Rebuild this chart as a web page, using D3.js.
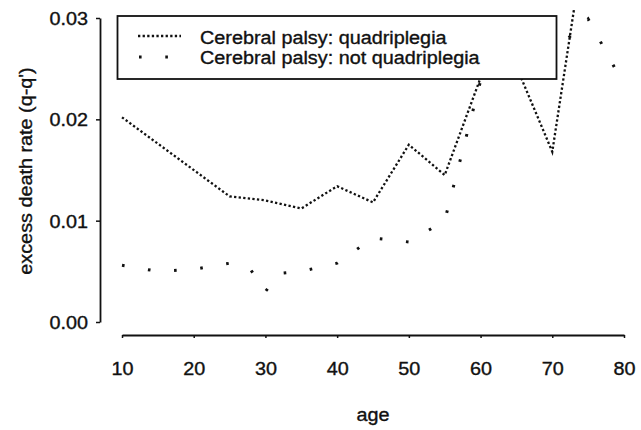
<!DOCTYPE html>
<html lang="en">
<head>
  <meta charset="UTF-8">
  <title>excess death rate</title>
  <script src="https://cdn.jsdelivr.net/npm/d3@7"></script>
  <style>
    body { margin: 0; background: #fff; }
    text { font-family: "Liberation Sans", Arial, sans-serif; fill: #111; stroke: #111; stroke-width: 0.35px; }
  </style>
</head>
<body>
<div id="grafica"></div>
<script>
// datos
var quadAge  = [10, 25, 30, 35, 40, 45, 50, 55, 60, 65, 70, 75]
var quadRate = [0.0202, 0.0124, 0.0120, 0.0112, 0.0134, 0.0118, 0.0175, 0.0145, 0.0241, 0.0252, 0.0168, 0.0400]

var notAge  = [10, 15, 20, 25, 28, 30, 32, 35, 40, 45, 50, 55, 60, 65, 70, 75, 80]
var notRate = [0.0056, 0.0050, 0.0052, 0.0058, 0.0051, 0.0030, 0.0048, 0.0050, 0.0058, 0.0083, 0.0079, 0.0100, 0.0238, 0.0246, 0.0265, 0.0299, 0.0234]

var xTicks = [10, 20, 30, 40, 50, 60, 70, 80]
var yTicks = [0, 0.01, 0.02, 0.03]
var legendLabels = ['Cerebral palsy: quadriplegia', 'Cerebral palsy: not quadriplegia']

ancho = 641
alto  = 430

svg = d3.select('#grafica')
        .append('svg')
        .attr('width', ancho)
        .attr('height', alto)

x = d3.scaleLinear().domain([10, 80]).range([122, 624])
y = d3.scaleLinear().domain([0, 0.03]).range([322, 18])

// letra algo mas ancha que Arial, como en el original
function stretch(sel) {
  sel.each(function() {
    var w = this.getComputedTextLength()
    d3.select(this).attr('textLength', w * 1.1).attr('lengthAdjust', 'spacingAndGlyphs')
  })
}

svg.append('clipPath').attr('id', 'clip')
   .append('rect').attr('x', 100).attr('y', 8).attr('width', 541).attr('height', 327)

var quad = quadAge.map(function(a, i) { return { age: a, rate: quadRate[i] } })
var notq = notAge.map(function(a, i) { return { age: a, rate: notRate[i] } })

line = d3.line().x(d => x(d.age)).y(d => y(d.rate))

svg.append('path')
   .datum(quad)
   .attr('clip-path', 'url(#clip)')
   .attr('d', line)
   .attr('fill', 'none')
   .attr('stroke', '#111')
   .attr('stroke-width', 2.3)
   .attr('stroke-dasharray', '2.3,2.3')

svg.append('path')
   .datum(notq)
   .attr('clip-path', 'url(#clip)')
   .attr('d', line)
   .attr('fill', 'none')
   .attr('stroke', '#111')
   .attr('stroke-width', 3)
   .attr('stroke-dasharray', '2.6,23.7')

// ejes
gy = svg.append('g')
        .attr('transform', 'translate(100,0)')
        .call(d3.axisLeft(y).tickValues(yTicks).tickFormat(d3.format('.2f')).tickSize(4).tickSizeOuter(0))
gx = svg.append('g')
        .attr('transform', 'translate(0,335)')
        .call(d3.axisBottom(x).tickValues(xTicks).tickSize(3).tickSizeOuter(0))

svg.selectAll('.domain').attr('stroke', '#111').attr('stroke-width', 1.8)
svg.selectAll('.tick line').attr('stroke', '#111').attr('stroke-width', 1.5)

gy.selectAll('text').attr('x', -12).attr('dy', '0.36em')
  .style('font-size', '18px').style('font-family', '"Liberation Sans", Arial, sans-serif').attr('fill', '#111')
gx.selectAll('text').attr('y', 40).attr('dy', 0)
  .style('font-size', '18px').style('font-family', '"Liberation Sans", Arial, sans-serif').attr('fill', '#111')

svg.append('text')
   .attr('x', 373).attr('y', 421)
   .attr('text-anchor', 'middle')
   .style('font-size', '18px')
   .text('age')

svg.append('text')
   .attr('transform', 'translate(32,171) rotate(-90)')
   .attr('text-anchor', 'middle')
   .style('font-size', '18px')
   .text("excess death rate (q-q')")

// leyenda
legend = svg.append('g')
legend.append('rect')
      .attr('x', 117.5).attr('y', 16)
      .attr('width', 439).attr('height', 63)
      .attr('fill', '#fff')
      .attr('stroke', '#111')
      .attr('stroke-width', 1.8)

legend.append('line')
      .attr('x1', 138).attr('x2', 181).attr('y1', 36).attr('y2', 36)
      .attr('stroke', '#111').attr('stroke-width', 2.3).attr('stroke-dasharray', '2.3,2.3')
legend.append('line')
      .attr('x1', 139).attr('x2', 181).attr('y1', 57).attr('y2', 57)
      .attr('stroke', '#111').attr('stroke-width', 3).attr('stroke-dasharray', '2.6,23.7')

legend.selectAll('text.lab')
      .data(legendLabels)
      .enter()
      .append('text')
      .attr('class', 'lab')
      .attr('x', 200)
      .attr('y', (d, i) => 43.5 + i * 20.5)
      .style('font-size', '18px')
      .text(d => d)

svg.selectAll('text').call(stretch)
</script>
</body>
</html>
